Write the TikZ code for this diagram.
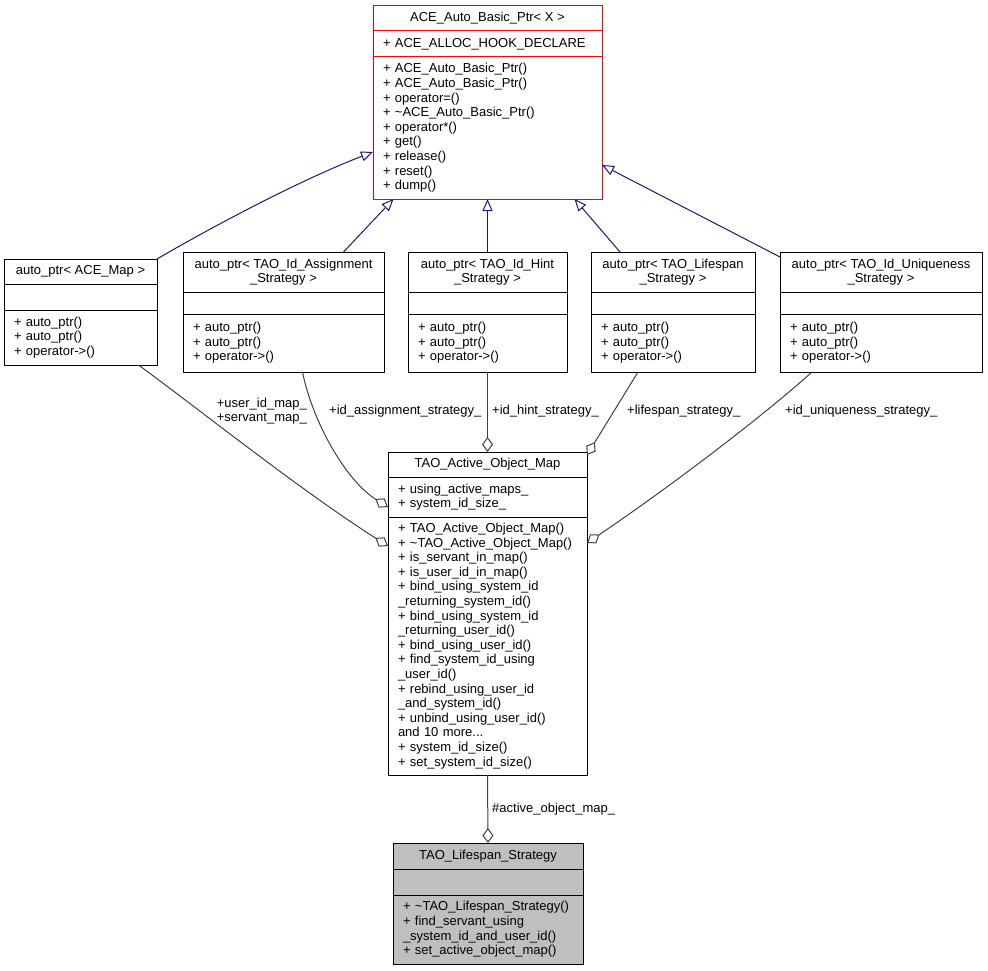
\documentclass[tikz,border=0pt]{standalone}
\usepackage{fontspec}
\setmainfont{Liberation Sans}
\usetikzlibrary{positioning,arrows.meta}
\definecolor{edgenavy}{RGB}{25,25,112}
\definecolor{edgegray}{RGB}{64,64,64}
\definecolor{boxgray}{RGB}{191,191,191}
\newcommand{\umlfont}{\fontsize{13}{14.6}\selectfont}

\begin{document}
\begin{tikzpicture}[x=1pt,y=-1pt,every node/.style={font=\umlfont},
				part/.style={draw,rectangle,outer sep=0pt,inner xsep=10pt,inner ysep=0pt,node distance=0pt,line width=1pt},
				head/.style={part,align=center},
				body/.style={part,align=left},
				lbl/.style={inner sep=0pt},
				inherit/.style={draw=edgenavy,line width=1pt,-{Triangle[open,length=12pt,width=10pt]}},
				aggr/.style={draw=edgegray,line width=1pt,-{Diamond[open,length=15pt,width=11pt]}}]
				\useasboundingbox (0,0) rectangle (988,971);
				% base class
				\node (BASE)    [head,draw=red,anchor=north west,minimum width=229pt,minimum height=25pt] at (373,6) {ACE\_Auto\_Basic\_Ptr< X >};
				\node (BASEA)   [body,draw=red,below=of BASE,text width=209pt,minimum height=26pt] {+ ACE\_ALLOC\_HOOK\_DECLARE};
				\node (BASEM)   [body,draw=red,below=of BASEA,text width=209pt,minimum height=142pt]
					{+ ACE\_Auto\_Basic\_Ptr()\\+ ACE\_Auto\_Basic\_Ptr()\\+ operator=()\\+ \textasciitilde ACE\_Auto\_Basic\_Ptr()\\+ operator*()\\+ get()\\+ release()\\+ reset()\\+ dump()};
				% auto_ptr row
				\node (MAP)     [head,anchor=north west,minimum width=153pt,minimum height=25pt] at (4,259) {auto\_ptr< ACE\_Map >};
				\node (MAPA)    [body,below=of MAP,text width=133pt,minimum height=26pt] {};
				\node (MAPM)    [body,below=of MAPA,text width=133pt,minimum height=55pt] {+ auto\_ptr()\\+ auto\_ptr()\\+ operator->()};
				\node (ASSIGN)  [head,anchor=north west,minimum width=201pt,minimum height=40pt] at (183,252) {auto\_ptr< TAO\_Id\_Assignment\\\_Strategy >};
				\node (ASSIGNA) [body,below=of ASSIGN,text width=181pt,minimum height=22pt] {};
				\node (ASSIGNM) [body,below=of ASSIGNA,text width=181pt,minimum height=58pt] {+ auto\_ptr()\\+ auto\_ptr()\\+ operator->()};
				\node (HINT)    [head,anchor=north west,minimum width=159pt,minimum height=40pt] at (408,252) {auto\_ptr< TAO\_Id\_Hint\\\_Strategy >};
				\node (HINTA)   [body,below=of HINT,text width=139pt,minimum height=22pt] {};
				\node (HINTM)   [body,below=of HINTA,text width=139pt,minimum height=58pt] {+ auto\_ptr()\\+ auto\_ptr()\\+ operator->()};
				\node (LIFE)    [head,anchor=north west,minimum width=164pt,minimum height=40pt] at (591,252) {auto\_ptr< TAO\_Lifespan\\\_Strategy >};
				\node (LIFEA)   [body,below=of LIFE,text width=144pt,minimum height=22pt] {};
				\node (LIFEM)   [body,below=of LIFEA,text width=144pt,minimum height=58pt] {+ auto\_ptr()\\+ auto\_ptr()\\+ operator->()};
				\node (UNIQ)    [head,anchor=north west,minimum width=202pt,minimum height=40pt] at (780,252) {auto\_ptr< TAO\_Id\_Uniqueness\\\_Strategy >};
				\node (UNIQA)   [body,below=of UNIQ,text width=182pt,minimum height=22pt] {};
				\node (UNIQM)   [body,below=of UNIQA,text width=182pt,minimum height=58pt] {+ auto\_ptr()\\+ auto\_ptr()\\+ operator->()};
				% active object map
				\node (AOM)     [head,anchor=north west,minimum width=199pt,minimum height=25pt] at (388,452) {TAO\_Active\_Object\_Map};
				\node (AOMA)    [body,below=of AOM,text width=179pt,minimum height=40pt] {+ using\_active\_maps\_\\+ system\_id\_size\_};
				\node (AOMM)    [body,below=of AOMA,text width=179pt,minimum height=258pt]
					{+ TAO\_Active\_Object\_Map()\\+ \textasciitilde TAO\_Active\_Object\_Map()\\+ is\_servant\_in\_map()\\+ is\_user\_id\_in\_map()\\
					+ bind\_using\_system\_id\\\_returning\_system\_id()\\+ bind\_using\_system\_id\\\_returning\_user\_id()\\+ bind\_using\_user\_id()\\
					+ find\_system\_id\_using\\\_user\_id()\\+ rebind\_using\_user\_id\\\_and\_system\_id()\\+ unbind\_using\_user\_id()\\
					and 10 more...\\+ system\_id\_size()\\+ set\_system\_id\_size()};
				% lifespan strategy
				\node (LS)      [head,fill=boxgray,anchor=north west,minimum width=190pt,minimum height=26pt] at (393,843) {TAO\_Lifespan\_Strategy};
				\node (LSA)     [body,fill=boxgray,below=of LS,text width=170pt,minimum height=26pt] {};
				\node (LSM)     [body,fill=boxgray,below=of LSA,text width=170pt,minimum height=69pt]
					{+ \textasciitilde TAO\_Lifespan\_Strategy()\\+ find\_servant\_using\\\_system\_id\_and\_user\_id()\\+ set\_active\_object\_map()};
				
				\draw[inherit] (MAP.north east) .. controls (210,228) and (300,180) .. ([yshift=-24pt]BASEM.west);
				\draw[inherit] ([xshift=60pt]ASSIGN.north) -- ([xshift=-94pt]BASEM.south);
				\draw[inherit] (HINT.north) -- (BASEM.south);
				\draw[inherit] ([xshift=-53pt]LIFE.north) -- ([xshift=87pt]BASEM.south);
				\draw[inherit] ([yshift=-5pt]UNIQ.north west) -- ([yshift=-37pt]BASEM.east);
				
				\draw[aggr] ([xshift=58pt]MAPM.south) .. controls (200,410) and (300,490) .. ([yshift=-29pt]AOMM.north west);
				\draw[aggr] ([xshift=19pt]ASSIGNM.south) .. controls (312,420) and (345,480) .. ([yshift=-10pt]AOMA.west);
				\draw[aggr] (HINTM.south) -- (AOM.north);
				\draw[aggr] ([xshift=-35pt]LIFEM.south) -- ([yshift=-3pt]AOM.north east);
				\draw[aggr] ([xshift=-69pt]UNIQM.south) .. controls (770,410) and (680,480) .. ([yshift=-26pt]AOMM.north east);
				\draw[aggr] (AOMM.south) -- (LS.north);
				
				\node (LMAP)    [lbl,anchor=east,align=right] at (307,411) {+user\_id\_map\_\\+servant\_map\_};
				\node (LASSIGN) [lbl,anchor=west] at (329,411) {+id\_assignment\_strategy\_};
				\node (LHINT)   [lbl,anchor=west] at (492,411) {+id\_hint\_strategy\_};
				\node (LLIFE)   [lbl,anchor=west] at (627,411) {+lifespan\_strategy\_};
				\node (LUNIQ)   [lbl,anchor=west] at (785,411) {+id\_uniqueness\_strategy\_};
				\node (LAOM)    [lbl,anchor=west] at (492,809) {\#active\_object\_map\_};
			\end{tikzpicture}
\end{document}
